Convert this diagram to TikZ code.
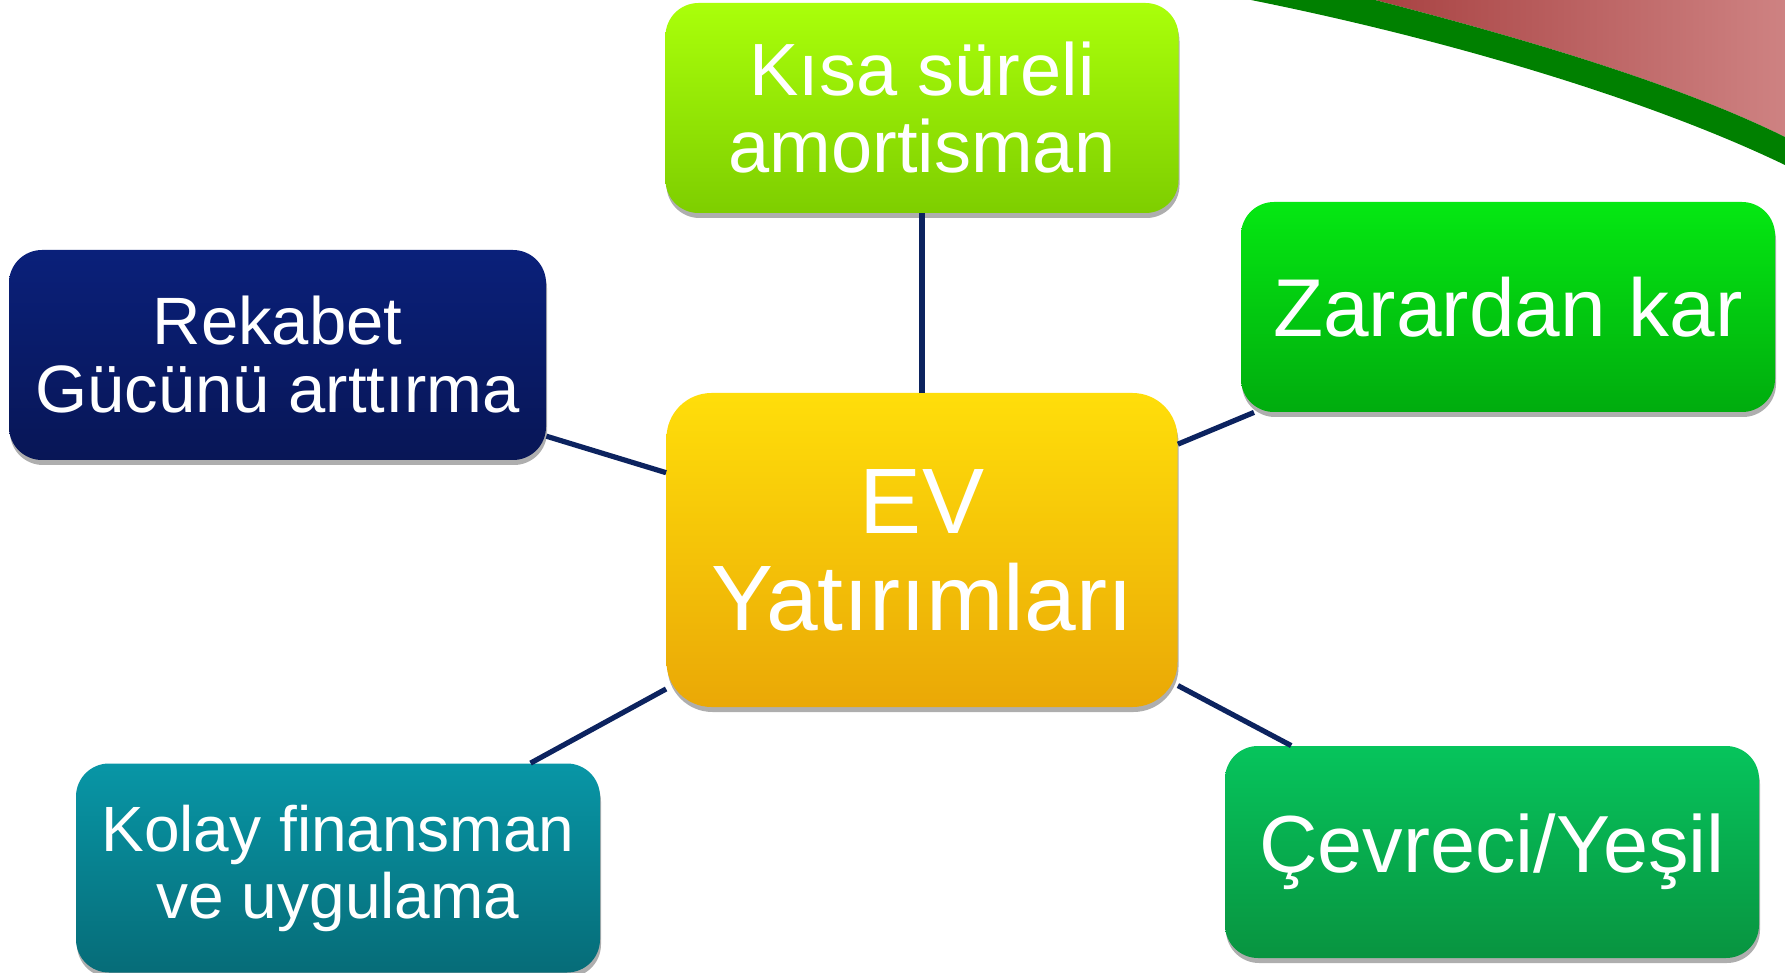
\documentclass[tikz,border=0pt]{standalone}
\usepackage{fontspec}
\setmainfont{Liberation Sans}
\usetikzlibrary{shadows}
\definecolor{linkblue}{RGB}{12,35,95}
\definecolor{bandgreen}{RGB}{0,128,0}
\definecolor{redL}{RGB}{168,66,66}
\definecolor{redR}{RGB}{206,130,130}
\definecolor{kisaT}{RGB}{170,255,10}
\definecolor{kisaB}{RGB}{126,206,0}
\definecolor{rekT}{RGB}{10,32,122}
\definecolor{rekB}{RGB}{8,22,86}
\definecolor{zarT}{RGB}{5,232,18}
\definecolor{zarB}{RGB}{0,172,14}
\definecolor{evT}{RGB}{255,222,10}
\definecolor{evB}{RGB}{234,168,6}
\definecolor{kolT}{RGB}{8,150,166}
\definecolor{kolB}{RGB}{6,108,120}
\definecolor{cevT}{RGB}{6,196,92}
\definecolor{cevB}{RGB}{8,148,64}
\begin{document}
\begin{tikzpicture}[x=0.5pt,y=-0.5pt,
  boxnode/.style={rounded corners=16.5pt, text=white, align=center, inner sep=0pt,
    drop shadow={shadow xshift=0.5pt,shadow yshift=-2.5pt,opacity=0.45,fill=black!70}},
  link/.style={draw=linkblue, line width=2.6pt}]
\useasboundingbox (0,0) rectangle (1785,973);
% top-right decoration
\shade[left color=redL, right color=redR]
  (1375,0) .. controls (1530,40) and (1680,85) .. (1785,137) -- (1785,0) -- cycle;
\fill[bandgreen]
  (1251,0) .. controls (1450,40) and (1650,100) .. (1785,165) -- (1785,137)
  .. controls (1680,85) and (1530,40) .. (1375,0) -- cycle;
% nodes
\node[boxnode, minimum width=256.5pt, minimum height=105pt, top color=kisaT, bottom color=kisaB,
  font=\fontsize{37}{38.5}\selectfont] (kisa) at (922,108) {Kısa süreli\\amortisman};
\node[boxnode, minimum width=268.5pt, minimum height=105pt, top color=rekT, bottom color=rekB,
  font=\fontsize{33.5}{34}\selectfont] (rek) at (277.5,355) {Rekabet\\Gücünü arttırma};
\node[boxnode, minimum width=267pt, minimum height=105pt, top color=zarT, bottom color=zarB,
  font=\fontsize{41}{42}\selectfont] (zar) at (1508,307) {Zarardan kar};
\node[boxnode, rounded corners=22.5pt, minimum width=255.5pt, minimum height=157pt, top color=evT, bottom color=evB,
  font=\fontsize{46.5}{48.5}\selectfont] (ev) at (922,550) {EV\\Yatırımları};
\node[boxnode, minimum width=262pt, minimum height=104.5pt, top color=kolT, bottom color=kolB,
  font=\fontsize{32}{33.5}\selectfont] (kol) at (338,868) {Kolay finansman\\ve uygulama};
\node[boxnode, minimum width=267pt, minimum height=106pt, top color=cevT, bottom color=cevB,
  font=\fontsize{40.5}{42}\selectfont] (cev) at (1492,852) {Çevreci/Yeşil};
% connectors
\draw[link] (ev) -- (kisa);
\draw[link] (ev) -- (rek);
\draw[link] (ev) -- (zar);
\draw[link] (ev) -- (kol);
\draw[link] (ev) -- (cev);
\end{tikzpicture}
\end{document}
